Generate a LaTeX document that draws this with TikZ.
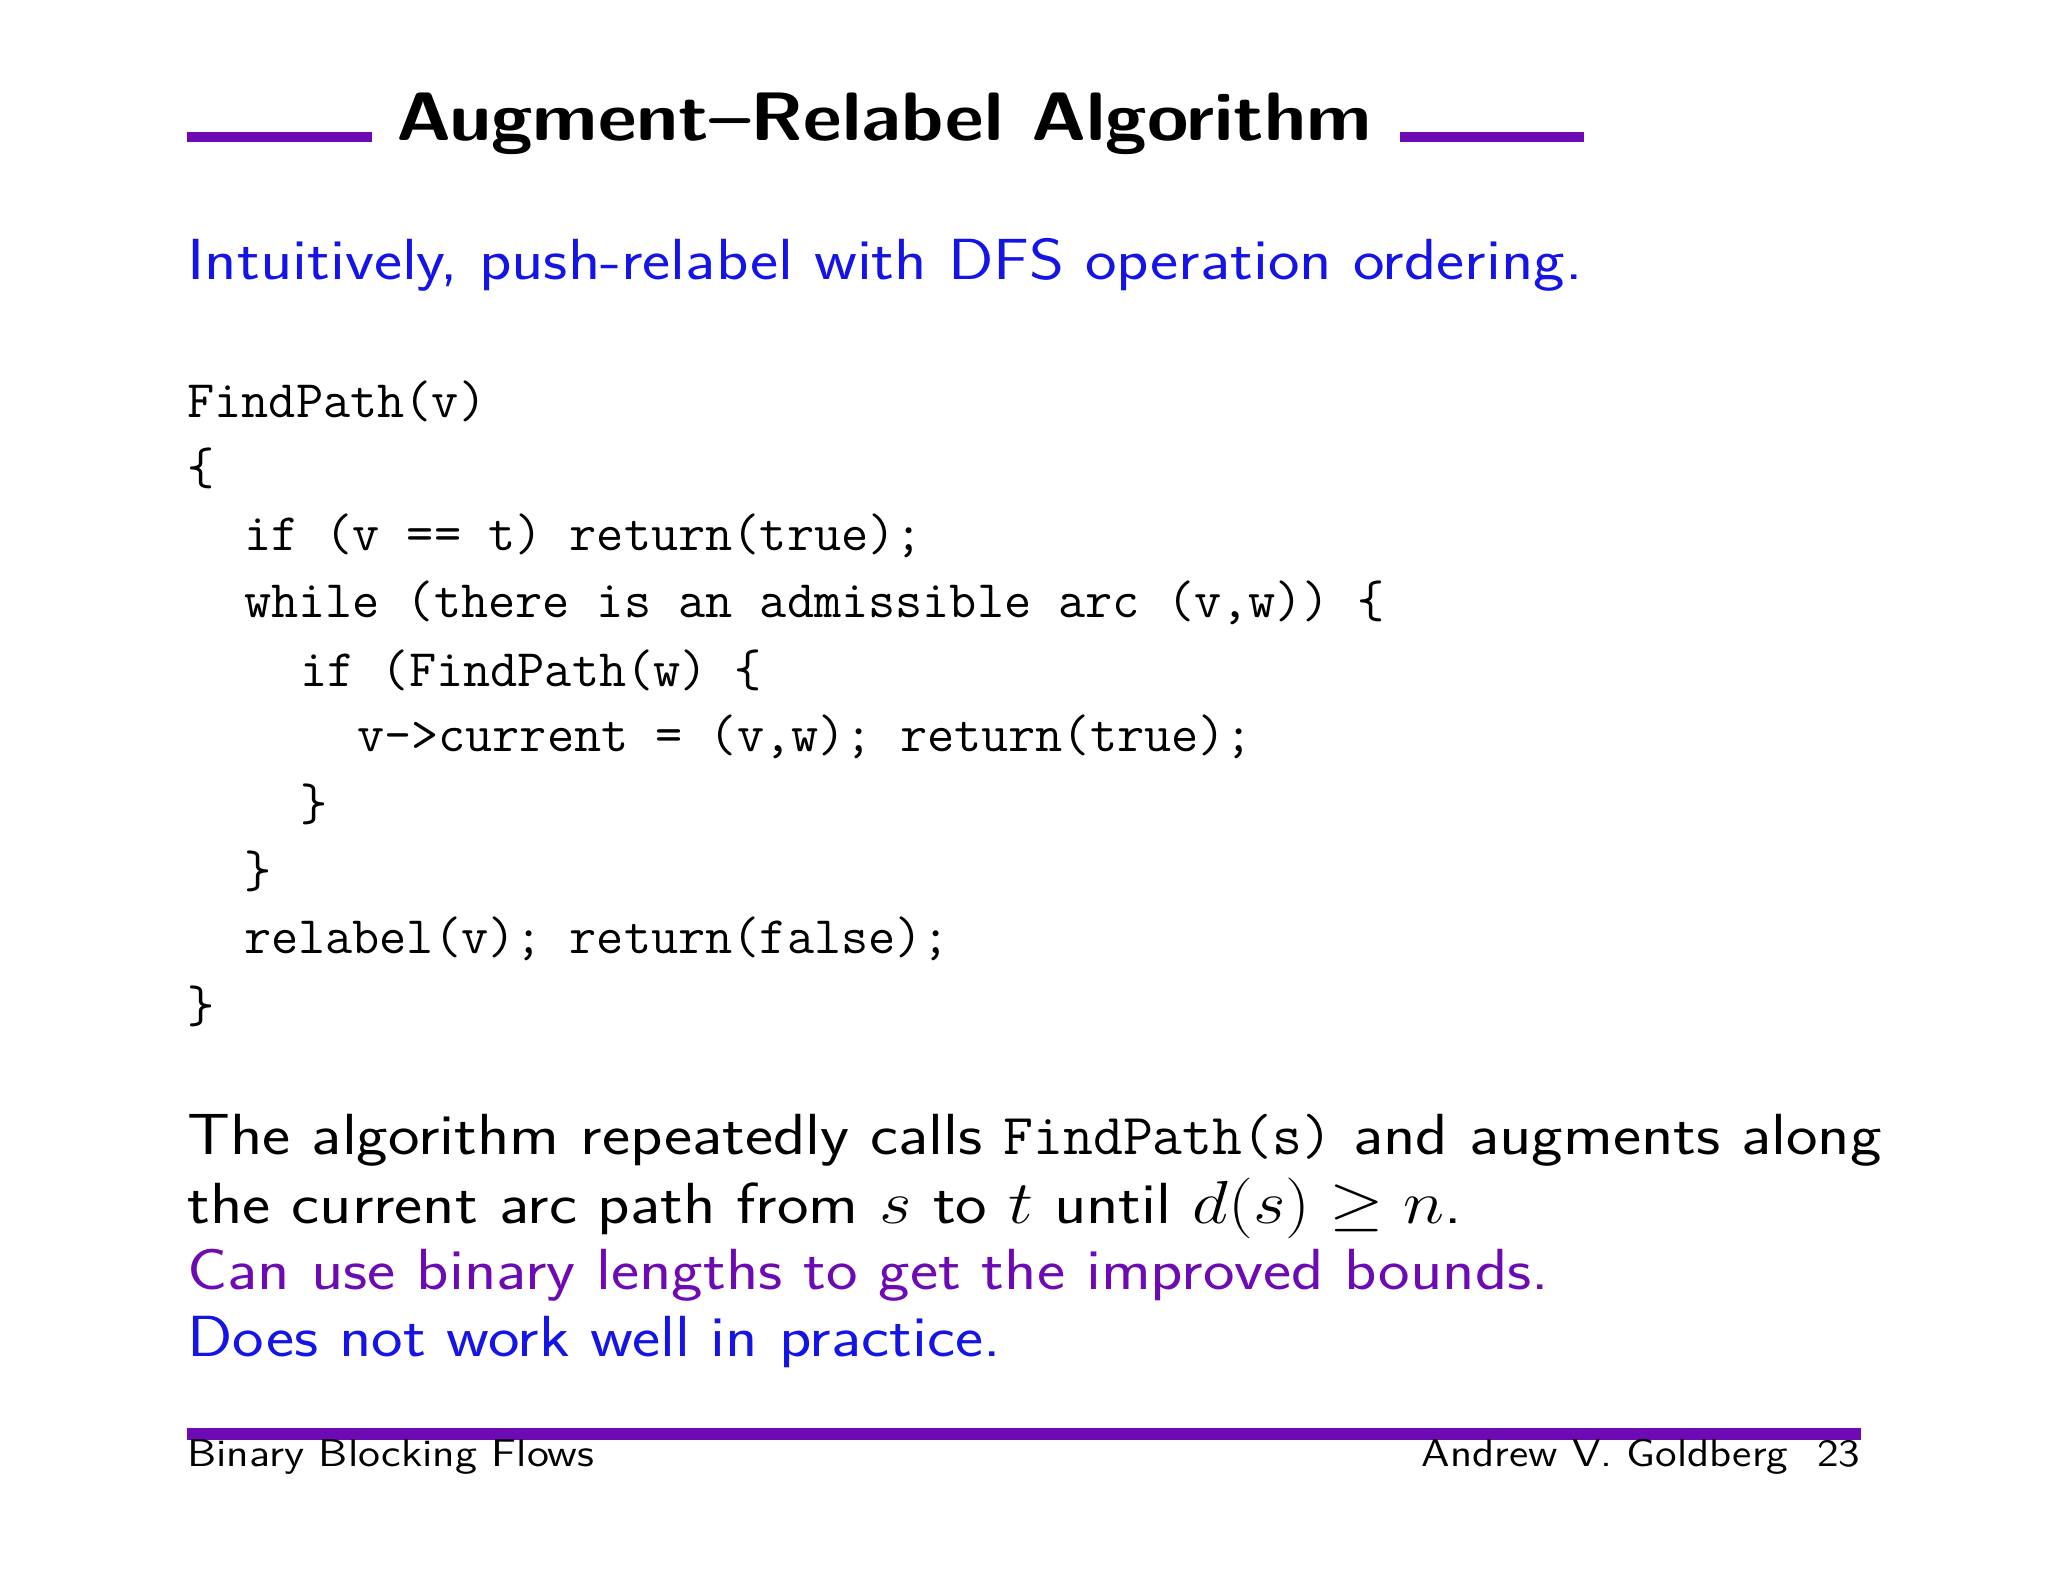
\documentclass[tikz,border=0pt]{standalone}
\usepackage{amsmath}
\usepackage{graphicx}
\definecolor{bblue}{RGB}{20,20,230}
\definecolor{bpurp}{RGB}{110,10,180}
\newcommand{\wide}[1]{\scalebox{1.155}[1]{#1}}
\newcommand{\unwide}[1]{\scalebox{0.866}[1]{#1}}
\begin{document}
\begin{tikzpicture}[x=1cm,y=-1cm,
  body/.style={anchor=west,inner sep=0pt,font=\fontsize{16.5}{20}\sffamily},
  code/.style={anchor=west,inner sep=0pt,font=\fontsize{15}{18}\ttfamily},
  foot/.style={inner sep=0pt,font=\fontsize{11}{13}\sffamily}]
\useasboundingbox[fill=white] (0,0) rectangle (20.48,15.82);
\draw[bpurp,line width=3pt] (1.868,1.371) -- (3.72,1.371);
\draw[bpurp,line width=3pt] (14.0,1.371) -- (15.84,1.371);
\node[inner sep=0pt,font=\fontsize{19.5}{24}\sffamily\bfseries] (title) at (8.84,1.24) {\scalebox{1.1}[1]{Augment--Relabel Algorithm}};
\node[body,text=bblue] (intro) at (1.868,2.65) {\wide{Intuitively, push-relabel with DFS operation ordering.}};
\foreach \i/\ind/\t in {0/0/{FindPath(v)},1/0/{\{},2/1/{if (v == t) return(true);},3/1/{while (there is an admissible arc (v,w)) \{},4/2/{if (FindPath(w) \{},5/3/{v->current = (v,w); return(true);},6/2/{\}},7/1/{\}},8/1/{relabel(v); return(false);},9/0/{\}}}
  \node[code] (c\i) at ({1.868+\ind*0.565},{4.01+\i*0.6725}) {\t};
\node[body] (p1) at (1.868,11.40) {\wide{The algorithm repeatedly calls \unwide{\texttt{FindPath(s)}} and augments along}};
\node[body] (p2) at (1.868,12.08) {\wide{the current arc path from $s$ to $t$ until $d(s)\ge n$.}};
\node[body,text=bpurp] (p3) at (1.868,12.75) {\wide{Can use binary lengths to get the improved bounds.}};
\node[body,text=bblue] (p4) at (1.868,13.42) {\wide{Does not work well in practice.}};
\draw[bpurp,line width=3.5pt] (1.868,14.34) -- (18.61,14.34);
\node[foot,anchor=west] (f1) at (1.868,14.57) {\scalebox{1.16}[1]{Binary Blocking Flows}};
\node[foot,anchor=east] (f2) at (18.61,14.57) {\scalebox{1.14}[1]{Andrew V. Goldberg\ \ 23}};
\end{tikzpicture}
\end{document}
